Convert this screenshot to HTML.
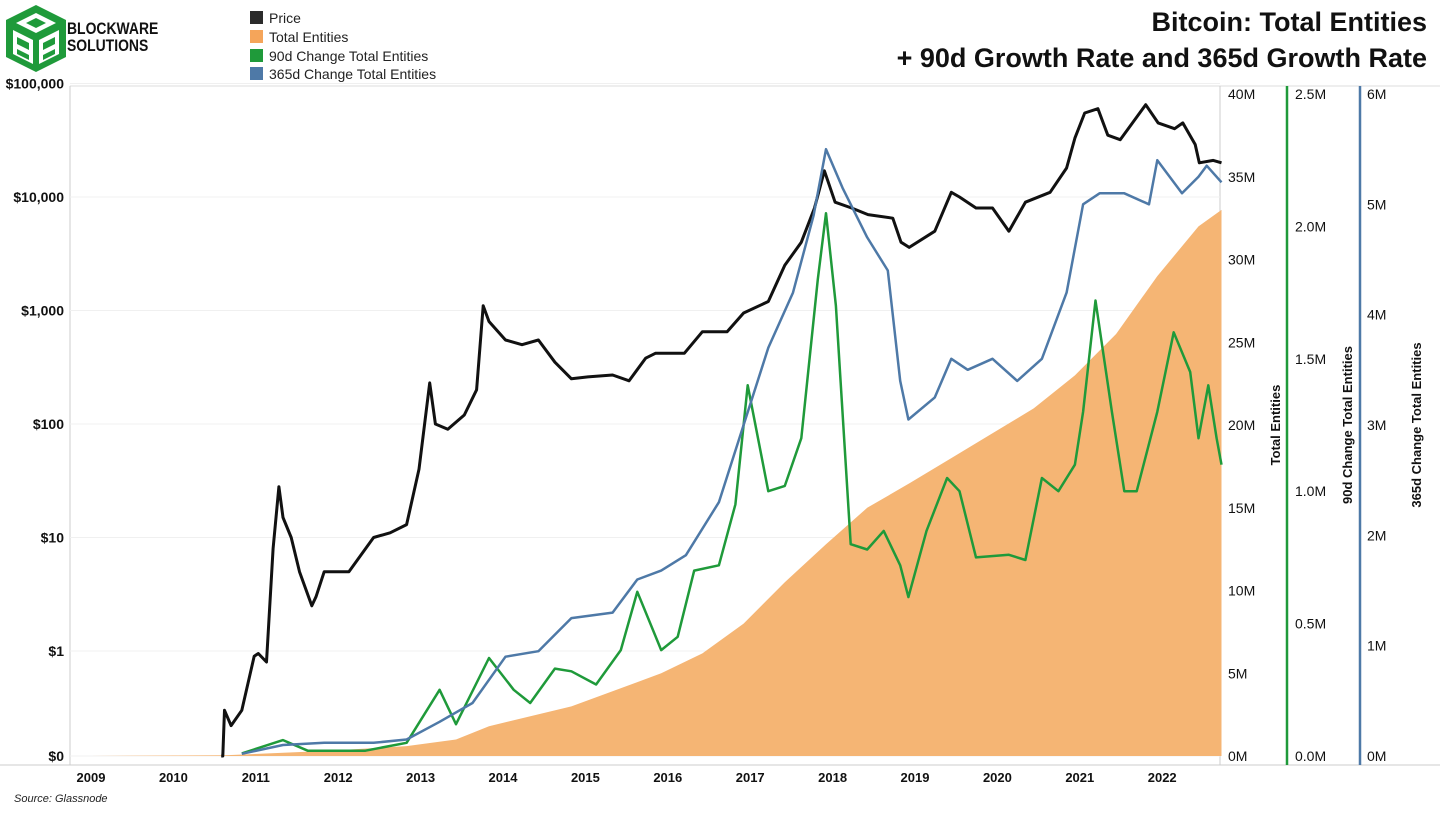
<!DOCTYPE html>
<html><head><meta charset="utf-8">
<style>
body{margin:0;background:#fff;width:1440px;height:813px;overflow:hidden;font-family:"Liberation Sans",sans-serif}
svg{position:absolute;left:0;top:0}
</style></head>
<body>
<svg id="chart" width="1440" height="813">
  <g>
    <polygon points="36,5 66,20 66,57 36,72 6,57 6,20" fill="#1f9a3a"/>
    <polygon points="36,13 56,23 36,33 16,23" fill="#fff"/>
    <polygon points="36,18 46,23 36,28 26,23" fill="#1f9a3a"/>
    <polygon points="13,30 33,40 33,64 13,54" fill="#fff"/>
    <polygon points="17,37 29,43 29,50 17,44" fill="#1f9a3a"/>
    <polygon points="17,49 29,55 29,60 17,54" fill="#1f9a3a"/>
    <polygon points="39,40 59,30 59,54 39,64" fill="#fff"/>
    <polygon points="43,43 55,37 55,44 43,50" fill="#1f9a3a"/>
    <polygon points="43,55 55,49 55,54 43,60" fill="#1f9a3a"/>
    <text x="67" y="34" font-size="17" font-weight="bold" fill="#111" transform="translate(67 0) scale(0.82 1) translate(-67 0)">BLOCKWARE</text>
    <text x="67" y="51" font-size="17" font-weight="bold" fill="#111" transform="translate(67 0) scale(0.82 1) translate(-67 0)">SOLUTIONS</text>
  </g>
  <g font-size="14" fill="#222">
    <g><rect x="250" y="11" width="13" height="13" fill="#2b2b2b"/><text x="269" y="23">Price</text></g>
    <g><rect x="250" y="30" width="13" height="13" fill="#f5a55a"/><text x="269" y="42">Total Entities</text></g>
    <g><rect x="250" y="49" width="13" height="13" fill="#1f9a3a"/><text x="269" y="61">90d Change Total Entities</text></g>
    <g><rect x="250" y="67" width="13" height="13" fill="#4e79a7"/><text x="269" y="79">365d Change Total Entities</text></g>
  </g>
  <text x="1427" y="31" text-anchor="end" font-size="27" font-weight="bold" fill="#111">Bitcoin: Total Entities</text>
  <text x="1427" y="67" text-anchor="end" font-size="27" font-weight="bold" fill="#111">+ 90d Growth Rate and 365d Growth Rate</text>
  <text x="14" y="802" font-size="11" font-style="italic" fill="#222">Source: Glassnode</text>
  <g id="plot"></g>
</svg>
<script>
const priceYears=[2010.58,2010.6,2010.62,2010.7,2010.83,2010.98,2011.03,2011.13,2011.21,2011.28,2011.33,2011.43,2011.53,2011.68,2011.73,2011.83,2012.13,2012.43,2012.63,2012.83,2012.98,2013.11,2013.18,2013.33,2013.53,2013.68,2013.76,2013.83,2014.03,2014.23,2014.43,2014.63,2014.83,2015.03,2015.33,2015.53,2015.73,2015.85,2016.2,2016.42,2016.72,2016.92,2017.22,2017.42,2017.62,2017.78,2017.9,2018.03,2018.23,2018.43,2018.73,2018.83,2018.93,2019.24,2019.44,2019.54,2019.74,2019.94,2020.14,2020.34,2020.64,2020.84,2020.94,2021.06,2021.22,2021.34,2021.49,2021.64,2021.8,2021.95,2022.15,2022.25,2022.4,2022.45,2022.62,2022.72];
const priceValues=[0.05,0.06,0.3,0.22,0.3,0.9,0.95,0.8,8,28,15,10,5,2.5,3,5,5,10,11,13,40,230,100,90,120,200,1100,800,550,500,550,350,250,260,270,240,380,420,420,650,650,950,1200,2500,4000,8000,17000,9000,8000,7000,6500,4000,3600,5000,11000,10000,8000,8000,5000,9000,11000,18000,33000,55000,60000,35000,32000,45000,65000,45000,40000,45000,29000,20000,21000,20000];
const entYears=[2009,2010.63,2011.83,2012.83,2013.43,2013.83,2014.83,2015.92,2016.42,2016.92,2017.42,2017.92,2018.42,2018.94,2019.44,2019.94,2020.44,2020.94,2021.44,2021.94,2022.44,2022.72];
const entValues=[0,0.05,0.3,0.6,1,1.8,3.0,5.0,6.2,8,10.5,12.8,15,16.5,18,19.5,21,23,25.5,29,32,33];
const d90Years=[2010.83,2011.33,2011.63,2012.33,2012.83,2013.23,2013.43,2013.83,2014.13,2014.33,2014.63,2014.83,2015.13,2015.43,2015.63,2015.92,2016.12,2016.32,2016.62,2016.82,2016.97,2017.22,2017.42,2017.62,2017.82,2017.92,2018.04,2018.22,2018.42,2018.62,2018.82,2018.92,2019.14,2019.39,2019.54,2019.74,2020.14,2020.34,2020.54,2020.74,2020.94,2021.04,2021.19,2021.39,2021.54,2021.69,2021.94,2022.14,2022.34,2022.44,2022.56,2022.66,2022.72];
const d90Values=[0.01,0.06,0.02,0.02,0.05,0.25,0.12,0.37,0.25,0.2,0.33,0.32,0.27,0.4,0.62,0.4,0.45,0.7,0.72,0.95,1.4,1.0,1.02,1.2,1.8,2.05,1.7,0.8,0.78,0.85,0.72,0.6,0.85,1.05,1.0,0.75,0.76,0.74,1.05,1.0,1.1,1.3,1.72,1.3,1.0,1.0,1.3,1.6,1.45,1.2,1.4,1.2,1.1];
const d365Years=[2010.83,2011.33,2011.83,2012.43,2012.83,2013.23,2013.63,2014.03,2014.43,2014.83,2015.33,2015.63,2015.92,2016.22,2016.62,2016.92,2017.22,2017.52,2017.77,2017.92,2018.12,2018.42,2018.67,2018.82,2018.92,2019.24,2019.44,2019.64,2019.94,2020.24,2020.54,2020.84,2021.04,2021.24,2021.54,2021.84,2021.94,2022.24,2022.44,2022.54,2022.72];
const d365Values=[0.02,0.1,0.12,0.12,0.15,0.31,0.48,0.9,0.95,1.25,1.3,1.6,1.68,1.82,2.3,3.0,3.7,4.2,4.9,5.5,5.15,4.7,4.4,3.4,3.05,3.25,3.6,3.5,3.6,3.4,3.6,4.2,5.0,5.1,5.1,5.0,5.4,5.1,5.25,5.35,5.2];
const yearTicks=[2009,2010,2011,2012,2013,2014,2015,2016,2017,2018,2019,2020,2021,2022];
const priceTicks=[0,1,10,100,1000,10000,100000];
const priceTickLabels=["$0","$1","$10","$100","$1,000","$10,000","$100,000"];
const entTicks=[0,5,10,15,20,25,30,35,40];
const d90Ticks=[0,0.5,1.0,1.5,2.0,2.5];
const d365Ticks=[0,1,2,3,4,5,6];

const NS="http://www.w3.org/2000/svg";
const plot=document.getElementById('plot');
const X0=70,X1=1220,Y0=756,YT=94;
function xs(yr){return 91+(yr-2009)*82.4;}
function yPrice(p){if(p<=0)return Y0;const y=651-113.5*Math.log10(p);return Math.min(Y0,y);}
function yEnt(v){return Y0-(Y0-YT)*v/40;}
function y90(v){return Y0-(Y0-YT)*v/2.5;}
function y365(v){return Y0-(Y0-YT)*v/6;}
function mk(tag,attrs,parent){const e=document.createElementNS(NS,tag);for(const k in attrs)e.setAttribute(k,attrs[k]);(parent||plot).appendChild(e);return e;}

const fr=mk('line',{x1:X0,y1:86,x2:1440,y2:86,stroke:'#ddd'});


const lb=mk('line',{x1:X0,y1:86,x2:X0,y2:765,stroke:'#ccc'});


const bb=mk('line',{x1:0,y1:765,x2:1440,y2:765,stroke:'#ccc'});


const rb=mk('line',{x1:X1,y1:86,x2:X1,y2:765,stroke:'#ccc'});


const gb=mk('line',{x1:1287,y1:86,x2:1287,y2:765,stroke:'#1f9a3a','stroke-width':2.5});


const bl=mk('line',{x1:1360,y1:86,x2:1360,y2:765,stroke:'#4e79a7','stroke-width':2.5});



priceTicks.forEach((t,i)=>{
  const y=yPrice(t);
  const g=mk('line',{x1:X0,y1:y,x2:X1,y2:y,stroke:'#f0f0f0'});
  
  
  const tx=mk('text',{x:64,y:y+5,'text-anchor':'end','font-size':14,'font-weight':'bold',fill:'#111'});
  tx.textContent=priceTickLabels[i];
  
  
});
entTicks.forEach(t=>{
  const tx=mk('text',{x:1228,y:yEnt(t)+5,'font-size':14,fill:'#111'});
  tx.textContent=t+'M';
  
  
});
d90Ticks.forEach(t=>{
  const tx=mk('text',{x:1295,y:y90(t)+5,'font-size':14,fill:'#111'});
  tx.textContent=t.toFixed(1)+'M';
  
  
});
d365Ticks.forEach(t=>{
  const tx=mk('text',{x:1367,y:y365(t)+5,'font-size':14,fill:'#111'});
  tx.textContent=t+'M';
  
  
});
yearTicks.forEach(t=>{
  const tx=mk('text',{x:xs(t),y:782,'text-anchor':'middle','font-size':13,'font-weight':'bold',fill:'#111'});
  tx.textContent=t;
  
  
});
[['Total Entities',1280,'entities-axis-title'],['90d Change Total Entities',1352,'90d-axis-title'],['365d Change Total Entities',1421,'365d-axis-title']].forEach(a=>{
  const tx=mk('text',{x:a[1],y:425,'text-anchor':'middle','font-size':13,'font-weight':'bold',fill:'#111',transform:`rotate(-90 ${a[1]} 425)`});
  tx.textContent=a[0];
  
  
});

let d='M'+xs(entYears[0])+','+Y0;
entYears.forEach((yr,i)=>{d+=' L'+xs(yr).toFixed(1)+','+yEnt(entValues[i]).toFixed(1);});
d+=' L'+xs(entYears[entYears.length-1]).toFixed(1)+','+Y0+' Z';
const area=mk('path',{d:d,fill:'#f5b574'});



function line(years,vals,yf,color,w,name){
  const p=years.map((yr,i)=>(i?'L':'M')+xs(yr).toFixed(1)+','+yf(vals[i]).toFixed(1)).join(' ');
  const e=mk('path',{d:p,fill:'none',stroke:color,'stroke-width':w,'stroke-linejoin':'round'});
  
  
}
line(d90Years,d90Values,y90,'#1f9a3a',2.5,'90d-change-line');
line(priceYears,priceValues,yPrice,'#111',3,'price-line');
line(d365Years,d365Values,y365,'#4e79a7',2.5,'365d-change-line');
</script>
</body></html>
